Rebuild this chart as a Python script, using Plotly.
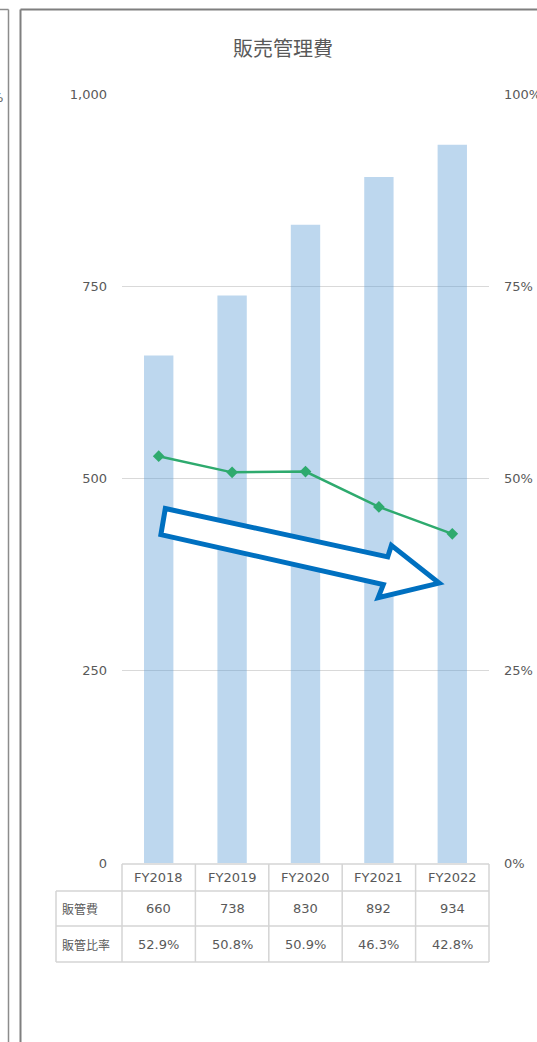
import plotly.graph_objects as go

# ---- data -------------------------------------------------------------
years = ["FY2018", "FY2019", "FY2020", "FY2021", "FY2022"]
sga_cost = [660, 738, 830, 892, 934]          # 販管費
sga_ratio = [52.9, 50.8, 50.9, 46.3, 42.8]    # 販管比率 (%)
row_labels = ["販管費", "販管比率"]
left_ticks = [0, 250, 500, 750, 1000]
right_ticks = [0, 0.25, 0.5, 0.75, 1.0]

# ---- geometry of the page (pixels) ------------------------------------
W, H = 537, 1042
PL, PR, PT, PB = 122, 489, 94, 863        # plot area edges
n = len(years)

def px_x(px):
    return (px - PL) / (PR - PL)

def px_y(py):
    return (PB - py) / (PB - PT)

TEXT = "#595959"
GRID = "#D9D9D9"
FONT = "DejaVu Sans, Noto Sans CJK JP, sans-serif"

fig = go.Figure()

fig.add_trace(go.Bar(
    x=years, y=sga_cost, width=0.4,
    marker=dict(color="rgba(91,155,213,0.4)", line=dict(width=0)),
    name="販管費",
))
fig.add_trace(go.Scatter(
    x=years, y=[r / 100 for r in sga_ratio], yaxis="y2",
    mode="lines+markers",
    line=dict(color="#2EAA6E", width=2.5),
    marker=dict(symbol="diamond", size=9, color="#2EAA6E"),
    name="販管比率",
))

fig.update_layout(
    width=W, height=H, autosize=False,
    margin=dict(l=PL, r=W - PR, t=PT, b=H - PB, pad=0),
    paper_bgcolor="white", plot_bgcolor="white",
    showlegend=False,
    font=dict(family=FONT, size=13, color=TEXT),
    xaxis=dict(range=[-0.5, n - 0.5], showticklabels=False, showgrid=False,
               zeroline=False, showline=False, ticks="", automargin=False),
    yaxis=dict(range=[0, 1000], tickvals=left_ticks, tickformat=",",
               gridcolor=GRID, gridwidth=1, zeroline=False, showline=False,
               ticks="", ticklabelstandoff=14, automargin=False),
    yaxis2=dict(range=[0, 1], tickvals=right_ticks, tickformat=".0%",
                overlaying="y", side="right", showgrid=False, zeroline=False,
                showline=False, ticks="", ticklabelstandoff=14,
                automargin=False),
)

shapes = []
annotations = []

# ---- title -------------------------------------------------------------
annotations.append(dict(
    text="販売管理費", xref="paper", yref="paper", x=px_x(283), y=px_y(48),
    xanchor="center", yanchor="middle", showarrow=False,
    font=dict(family="Noto Sans CJK JP", size=20, color=TEXT),
))

# ---- panel frames ------------------------------------------------------
frame = dict(type="line", xref="paper", yref="paper")
shapes.append(dict(frame, x0=px_x(-2), x1=px_x(8.5), y0=px_y(9.5), y1=px_y(9.5),
                   line=dict(color="#8C8C8C", width=1.5)))
shapes.append(dict(frame, x0=px_x(8.5), x1=px_x(8.5), y0=px_y(9.5), y1=px_y(H + 5),
                   line=dict(color="#8C8C8C", width=1.5)))
shapes.append(dict(frame, x0=px_x(20.5), x1=px_x(W + 5), y0=px_y(9.5), y1=px_y(9.5),
                   line=dict(color="#7F7F7F", width=2)))
shapes.append(dict(frame, x0=px_x(20.5), x1=px_x(20.5), y0=px_y(9.5), y1=px_y(H + 5),
                   line=dict(color="#7F7F7F", width=2)))
annotations.append(dict(
    text="%", xref="paper", yref="paper", x=px_x(5), y=px_y(97),
    xanchor="right", yanchor="middle", showarrow=False,
    font=dict(size=13, color=TEXT),
))

# ---- trend arrow (category index, left-axis units) ---------------------
arrow = [(0.09, 461), (3.12, 398), (3.17, 413), (3.82, 364),
         (2.99, 345), (3.06, 362), (0.03, 427)]
path = "M " + " L ".join(f"{x},{y}" for x, y in arrow) + " Z"
shapes.append(dict(type="path", xref="x", yref="y", path=path,
                   fillcolor="white", line=dict(color="#0070C0", width=5),
                   layer="above"))

# ---- data table under the chart ---------------------------------------
row_edges = [864, 891, 926, 962]          # pixel rows: header, 販管費, 販管比率
head_left = 56                            # left edge of the row-label column

def col_edge(i):
    return i / n

tline = dict(type="line", xref="paper", yref="paper",
             line=dict(color="#D4D4D4", width=1.5))
# horizontal rules
shapes.append(dict(tline, x0=col_edge(0), x1=col_edge(n),
                   y0=px_y(row_edges[0]), y1=px_y(row_edges[0])))
for r in row_edges[1:]:
    shapes.append(dict(tline, x0=px_x(head_left), x1=col_edge(n),
                       y0=px_y(r), y1=px_y(r)))
# vertical rules
shapes.append(dict(tline, x0=px_x(head_left), x1=px_x(head_left),
                   y0=px_y(row_edges[1]), y1=px_y(row_edges[-1])))
for i in range(n + 1):
    shapes.append(dict(tline, x0=col_edge(i), x1=col_edge(i),
                       y0=px_y(row_edges[0]), y1=px_y(row_edges[-1])))

def row_mid(k):
    return px_y((row_edges[k] + row_edges[k + 1]) / 2)

cell = dict(xref="x", yref="paper", showarrow=False, xanchor="center",
            yanchor="middle", font=dict(size=13, color=TEXT))
for yr, v, r in zip(years, sga_cost, sga_ratio):
    annotations.append(dict(cell, x=yr, y=row_mid(0), text=yr))
    annotations.append(dict(cell, x=yr, y=row_mid(1), text=f"{v:,}"))
    annotations.append(dict(cell, x=yr, y=row_mid(2), text=f"{r:.1f}%"))
for k, lab in enumerate(row_labels, start=1):
    annotations.append(dict(text=lab, xref="paper", yref="paper",
                            x=px_x(head_left + 4), y=row_mid(k),
                            xanchor="left", yanchor="middle", showarrow=False,
                            font=dict(family="Noto Sans CJK JP", size=12, color=TEXT)))

fig.update_layout(shapes=shapes, annotations=annotations)
fig.write_html("out.html")
